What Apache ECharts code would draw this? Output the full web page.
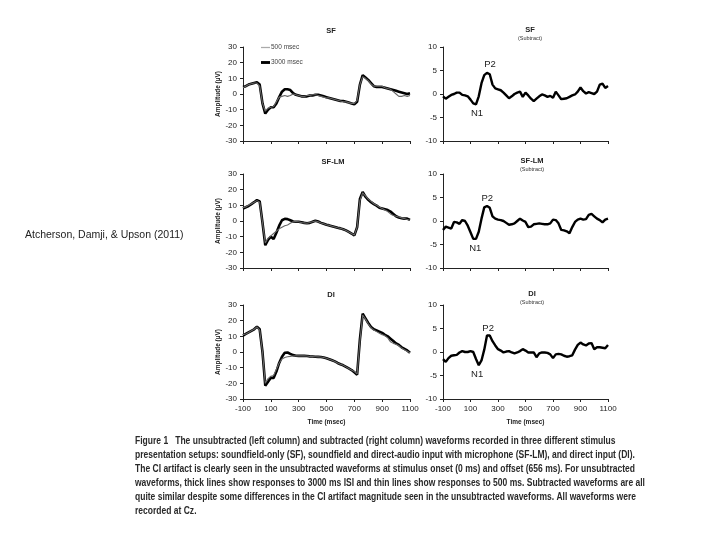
<!DOCTYPE html>
<html><head><meta charset="utf-8">
<script src="https://cdn.jsdelivr.net/npm/echarts@6/dist/echarts.min.js"></script>
<style>html,body{margin:0;padding:0;background:#fff}#c{width:720px;height:540px}</style>
</head><body><div id="c"></div>
<script>
const times = [-100,-80,-60,-40,-20,0,20,40,60,80,100,120,140,160,180,200,220,240,260,280,300,320,340,360,380,400,420,440,460,480,500,520,540,560,580,600,620,640,660,680,700,720,740,760,780,800,820,840,860,880,900,920,940,960,980,1000,1020,1040,1060,1080,1100];

const sfThick = [4.5,5,6,6.5,7,7.5,6,-6,-12.5,-10,-8.5,-8.5,-6,-2,1.5,3,3,2.5,0.5,-0.5,-1,-1.5,-1.5,-1.5,-1,-1,-0.5,-0.5,-1,-1.5,-2,-2.5,-3,-3.5,-4,-4.5,-4.5,-5,-5.5,-6,-6.5,-5,6,12,10.5,9,7,5,4.5,4.5,4.5,4,3.5,3,2.5,2,1.5,1,0.5,0,0.5];
const sfThin = [4,5,6,6.5,7,7,5,-6,-11,-9,-8.5,-8,-5,-2,-1.5,-1,-1.5,-1,0,-0.5,-1,-1.5,-1.5,-1,-1,-0.5,-0.5,-1,-1.5,-2,-2.5,-2.5,-3,-3.5,-4,-4.5,-5,-5,-5.5,-6,-6,-4,6,11,10,8.5,6.5,5,5,5,5,4,3.5,3,1.5,0,-1.5,-1.5,-1,-1.5,-1];
const sfSub = [-0.5,-1.0,-0.6,-0.2,0,0.3,0.3,-0.2,-0.3,-0.5,-1.2,-2.0,-2.2,-0.5,2.3,4.0,4.5,4.2,2.0,1.2,1.0,0.8,0.3,-0.3,-0.9,-0.5,0,0.3,0.5,-0.6,0.3,-0.3,-1.0,-1.5,-1.0,-0.5,-0.1,-0.3,-0.6,-0.4,-0.8,0.5,-0.3,-1.1,-1.0,-0.9,-0.6,-0.3,-0.1,0.5,1.4,0.6,0.1,0.4,0.2,0.0,0.5,2.0,2.2,1.3,1.7];

const lmThick = [8,8.8,9.6,10.8,12,13.3,12.5,-1,-15.5,-12,-10,-11.5,-7.5,-3,0.5,1.4,1.2,0.5,-0.3,-0.5,-0.5,-0.8,-1.2,-1.4,-1.2,-0.5,0.2,-0.3,-1.2,-1.8,-2.4,-2.8,-3.3,-3.8,-4.3,-4.7,-5.3,-6,-7,-8,-9.2,-4,14,18.5,15.5,13.5,12,10.8,9.8,8.5,8,7.5,7,6,4.5,3,2.2,1.8,1.5,1.5,0.7];
const lmThin = [8.5,9,10,11,12,13,12,-1,-14,-11,-9.5,-8,-6.5,-5,-4,-3,-2.5,-1.5,-0.5,-0.3,-0.5,-1,-1.2,-1.4,-1,-0.5,0,-0.5,-1.3,-1.8,-2.4,-2.8,-3.3,-3.8,-4.3,-4.7,-5.3,-6,-7,-8,-9,-4,13,18,16,14,12.5,11,10,9,8,7,6,4.5,3.5,3,2.5,2,1.5,1,0.5];
const lmSub = [-1.9,-1.2,-1.4,-1.6,-0.2,-0.3,-0.6,0.2,0,-1.0,-2.4,-3.8,-3.8,-2.3,0.5,2.9,3.2,2.8,1.0,0.5,0.3,0.2,0,-0.4,-0.8,-0.7,-0.5,0,0.5,0.1,-0.2,-1.3,-1.2,-0.7,-0.6,-0.5,-0.6,-0.7,-0.7,-0.5,0.3,0.2,-0.5,-1.9,-2.0,-2.2,-2.6,-1.3,-0.2,0.3,0.5,0.3,0.4,1.3,1.5,1.0,0.5,0.2,-0.3,0.3,0.5];

const diThick = [10.5,11.5,12.5,13.5,14.5,16.2,14.5,0,-21.5,-19,-16.5,-16.5,-12.5,-7,-3,-0.5,-0.3,-1.2,-2,-2.4,-2.5,-2.5,-2.5,-2.6,-2.8,-2.9,-3,-3.1,-3.2,-3.5,-4,-4.6,-5.3,-6,-7,-7.8,-8.5,-9.5,-10.5,-11.5,-13,-14.5,8,24.5,21.5,18.5,16,14.5,13.8,13,12.2,11,10,8.5,7,5.5,4.5,3,2,1,-0.5];
const diThin = [11,11.5,12.5,13.5,14.5,16,14,0,-20,-17,-15.5,-15,-11,-7,-4.5,-3.5,-3,-2.8,-2.6,-2.5,-2.5,-2.5,-2.5,-2.6,-2.8,-2.9,-3,-3.1,-3.2,-3.5,-4,-4.6,-5.3,-6,-7,-7.8,-8.5,-9.5,-10.5,-11.5,-12.5,-14,7,23.5,21,18,15.5,14,13,12,11,10.5,9,6.5,5.5,5,4,2.5,1.5,0.5,-0.5];
const diSub = [-1.5,-2.1,-1.3,-0.8,-0.7,-0.6,-0.1,0.2,0,0,0.2,0,-1.5,-2.8,-1.8,0.5,3.5,3.5,2.3,1.4,0.6,0.3,-0.1,0.1,0.2,-0.1,-0.3,-0.1,0.2,0.6,0.3,-0.1,-0.1,-0.1,-1.1,-0.3,-0.1,-0.1,-0.2,-0.5,-1.3,-0.5,-0.4,-0.5,-0.8,-1.0,-0.9,-0.7,0.5,1.5,2.0,1.6,1.4,1.8,1.9,0.6,1.0,1.0,0.9,0.8,1.5];

const panelTitles = ['SF','SF','SF-LM','SF-LM','DI','DI'];
const subtractNote = '(Subtract)';
const legendNames = ['500 msec','3000 msec'];
const yName = 'Amplitude (µV)';
const xName = 'Time (msec)';
const authorText = 'Atcherson, Damji, & Upson (2011)';
// peak annotation anchors [label, time, amplitude]
const sfPeaks = [['P2',242,6.3],['N1',147,-4.2]];
const lmPeaks = [['P2',222,4.9],['N1',135,-5.8]];
const diPeaks = [['P2',228,5.1],['N1',148,-4.7]];
const captionLines = [
 'Figure 1   The unsubtracted (left column) and subtracted (right column) waveforms recorded in three different stimulus',
 'presentation setups: soundfield-only (SF), soundfield and direct-audio input with microphone (SF-LM), and direct input (DI).',
 'The CI artifact is clearly seen in the unsubtracted waveforms at stimulus onset (0 ms) and offset (656 ms). For unsubtracted',
 'waveforms, thick lines show responses to 3000 ms ISI and thin lines show responses to 500 ms. Subtracted waveforms are all',
 'quite similar despite some differences in the CI artifact magnitude seen in the unsubtracted waveforms. All waveforms were',
 'recorded at Cz.'
];

const pairs = arr => times.map((t,i)=>[t,arr[i]]);
const F = 'Liberation Sans, Arial, sans-serif';

const gridPos = [
 {left:243, top:47, width:167, height:94},
 {left:443, top:47, width:165, height:94},
 {left:243, top:174, width:167, height:94},
 {left:443, top:174, width:165, height:94},
 {left:243, top:305, width:167, height:94},
 {left:443, top:305, width:165, height:94}
];
const axisLine = {show:true, onZero:false, lineStyle:{color:'#222', width:1}};
const xAxes = gridPos.map((g,i)=>({
  type:'value', gridIndex:i, min:-100, max:1100, interval:200,
  axisLine, axisTick:{show:true, length:3, lineStyle:{color:'#222'}},
  splitLine:{show:false},
  axisLabel:{show:i>=4, fontSize:8, color:'#222', margin:6, fontFamily:F, formatter:v=>String(v)},
  name: i>=4 ? xName : '', nameLocation:'middle', nameGap:20,
  nameTextStyle:{fontSize:6.5, fontWeight:'bold', color:'#222', fontFamily:F}
}));
const yAxes = gridPos.map((g,i)=>{
  const left = i%2===0;
  return {
    type:'value', gridIndex:i, min:left?-30:-10, max:left?30:10, interval:left?10:5,
    axisLine, axisTick:{show:true, length:3, lineStyle:{color:'#222'}},
    splitLine:{show:false},
    axisLabel:{fontSize:8, color:'#222', margin:6, fontFamily:F},
    name: left ? yName : '', nameLocation:'middle', nameGap:19, nameRotate:90,
    nameTextStyle:{fontSize:6.5, fontWeight:'bold', color:'#222', fontFamily:F}
  };
});

const thin = (data, i) => ({type:'line', name:legendNames[0], xAxisIndex:i, yAxisIndex:i, data:pairs(data),
  symbol:'none', lineStyle:{color:'#666', width:1.1}, itemStyle:{color:'#aaa'}, z:3, silent:true, animation:false});
const thick = (data, i) => ({type:'line', name:legendNames[1], xAxisIndex:i, yAxisIndex:i, data:pairs(data),
  symbol:'none', lineStyle:{color:'#000', width:2.6}, itemStyle:{color:'#000'}, z:2, silent:true, animation:false});
const sub = (data, i, peaks) => ({type:'line', name:'subtract'+i, xAxisIndex:i, yAxisIndex:i, data:pairs(data),
  symbol:'none', lineStyle:{color:'#000', width:2.4}, silent:true, animation:false,
  markPoint:{symbol:'circle', symbolSize:0, silent:true, animation:false,
    label:{show:true, position:'inside', fontSize:9.5, color:'#222', fontFamily:F, formatter:p=>p.name},
    data: peaks.map(p=>({name:p[0], coord:[p[1],p[2]]}))}
});

const titles = [];
const titleX = [326, 525, 328, 527, 326, 527];
const titleY = [22, 21, 153, 152, 286, 285];
panelTitles.forEach((t,i)=>{
  titles.push({text:t, left:titleX[i], top:titleY[i], textAlign:'center',
    textStyle:{fontSize:7.5, fontWeight:'bold', color:'#222', fontFamily:F},
    subtext: i%2===1 ? subtractNote : '', itemGap:1,
    subtextStyle:{fontSize:5.5, color:'#333', fontFamily:F}});
});

const chart = echarts.init(document.getElementById('c'), null, {renderer:'canvas'});

const cv = document.createElement('canvas').getContext('2d');
const capFont = 'bold 10px ' + F;
cv.font = capFont;
const w1 = cv.measureText(captionLines[2]).width;
const capScale = 500 / w1;

const graphics = [
  {type:'text', left:25, top:230, style:{text:authorText, font:'10.5px '+F, fill:'#222'}}
];
captionLines.forEach((l,i)=>{
  graphics.push({type:'text', x:135, y:441 + i*14, scaleX:capScale, scaleY:1,
    style:{text:l, font:capFont, fill:'#2a2a2a', textVerticalAlign:'middle'}});
});

chart.setOption({
  backgroundColor:'#fff',
  animation:false,
  title: titles,
  grid: gridPos,
  xAxis: xAxes,
  yAxis: yAxes,
  legend: {
    data:[
      {name:legendNames[0], icon:'path://M0,0M10,4M0,1.3h10v1.4h-10z', itemStyle:{color:'#aaa', borderWidth:0}},
      {name:legendNames[1], icon:'path://M0,0M10,4M0,0.4h10v3.2h-10z', itemStyle:{color:'#000', borderWidth:0}}
    ],
    orient:'vertical', left:261, top:44, padding:0, itemWidth:9, itemHeight:4, itemGap:8, itemSymbolKeepAspect:false,
    textStyle:{fontSize:6.5, color:'#444', fontFamily:F, padding:[0,0,0,-4]}, selectedMode:false},
  series: [
    thin(sfThin,0), thick(sfThick,0), sub(sfSub,1,sfPeaks),
    thin(lmThin,2), thick(lmThick,2), sub(lmSub,3,lmPeaks),
    thin(diThin,4), thick(diThick,4), sub(diSub,5,diPeaks)
  ],
  graphic: graphics
});
</script></body></html>
